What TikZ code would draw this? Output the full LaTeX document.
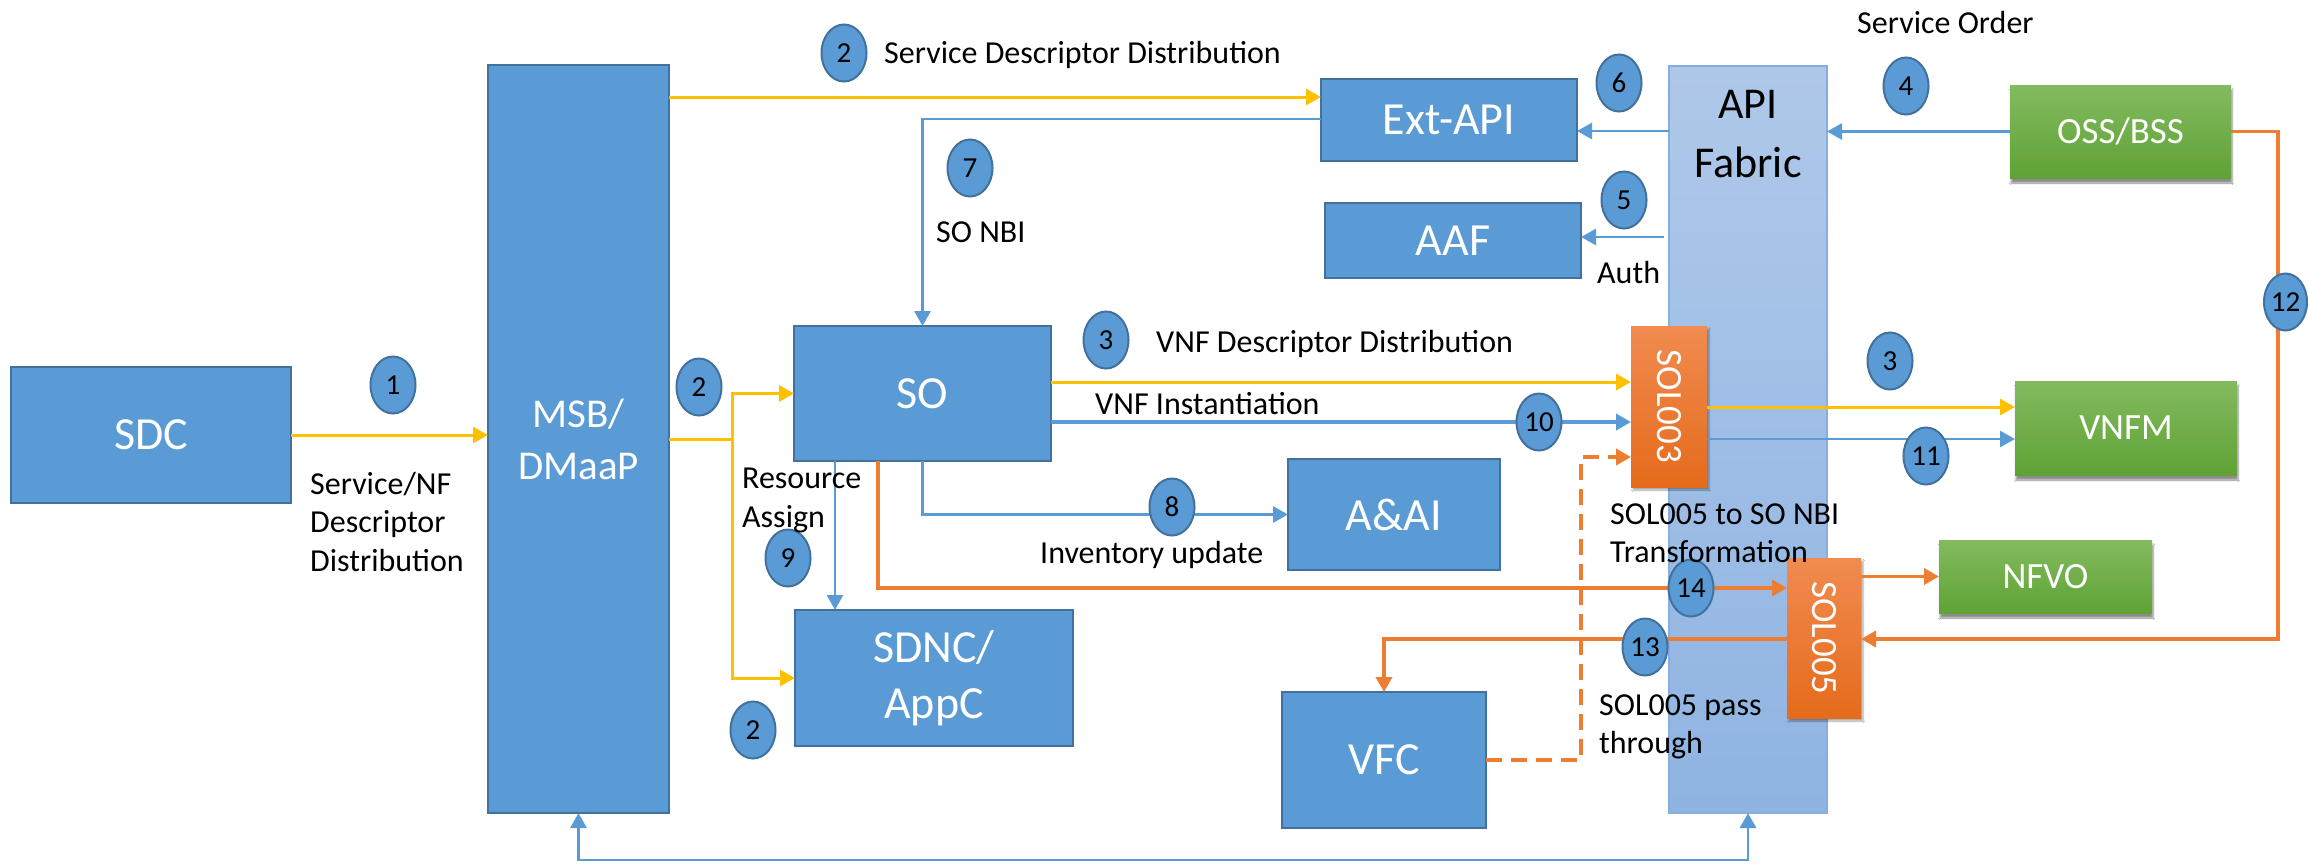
\documentclass[tikz,border=0pt]{standalone}
\usepackage{fontspec}
\setmainfont{Carlito}
\usetikzlibrary{arrows.meta,shapes.geometric,shadows,shadows.blur,calc}

\definecolor{boxfill}{HTML}{5B9BD5}
\definecolor{boxedge}{HTML}{41719C}
\definecolor{flowblue}{HTML}{5B9BD5}
\definecolor{flowgold}{HTML}{FFC000}
\definecolor{floworange}{HTML}{ED7D31}
\definecolor{greentop}{HTML}{82BB5F}
\definecolor{greenbot}{HTML}{60A235}
\definecolor{soltop}{HTML}{F18B50}
\definecolor{solbot}{HTML}{E56B1B}
\definecolor{fabtop}{HTML}{AFC8E9}
\definecolor{fabbot}{HTML}{8FB4E2}
\definecolor{fabedge}{HTML}{86AEDF}

\tikzset{
  comp/.style={draw=boxedge, fill=boxfill, line width=2.5pt, text=white,
    inner sep=0pt, outer sep=0pt, align=center, font=\fontsize{46}{56}\selectfont},
  extsys/.style={top color=greentop, bottom color=greenbot, draw=none, text=white,
    inner sep=0pt, outer sep=0pt, font=\fontsize{37}{44}\selectfont,
    blur shadow={shadow xshift=1pt, shadow yshift=-5pt, shadow blur steps=6, shadow opacity=45}},
  solbox/.style={top color=soltop, bottom color=solbot, draw=none, inner sep=0pt, outer sep=0pt,
    blur shadow={shadow xshift=2pt, shadow yshift=-3pt, shadow blur steps=4, shadow opacity=35}},
  soltxt/.style={text=white, inner sep=0pt, font=\fontsize{37}{37}\selectfont},
  fabric/.style={top color=fabtop, bottom color=fabbot, draw=fabedge, line width=1.5pt,
    inner sep=0pt, outer sep=0pt},
  fabtxt/.style={anchor=base, inner sep=0pt, font=\fontsize{44}{44}\selectfont},
  numb/.style={ellipse, fill=boxfill, draw=boxedge, line width=2pt, minimum width=45pt,
    minimum height=57pt, inner sep=0pt, font=\fontsize{29}{29}\selectfont},
  lbl/.style={anchor=base west, inner sep=0pt, font=\fontsize{32}{38}\selectfont},
  arrowed/.style={-{Triangle[length=15pt,width=16pt]}},
  goldline/.style={draw=flowgold, line width=3pt},
  blueline/.style={draw=flowblue, line width=2.8pt},
  thickblue/.style={draw=flowblue, line width=4pt},
  orangeline/.style={draw=floworange, line width=3.6pt},
  dashline/.style={draw=floworange, line width=4pt, dash pattern=on 16pt off 9pt},
}

\begin{document}
\begin{tikzpicture}[x=1pt, y=-1pt]
\useasboundingbox (0,0) rectangle (2308,863);
\fill[white] (0,0) rectangle (2308,863);

% API fabric column (background layer)
\node[fabric, minimum width=158pt, minimum height=747pt] (fab) at (1748,439.5) {};
\node[fabtxt] (fab1) at (1748,118) {API};
\node[fabtxt] (fab2) at (1748,177) {Fabric};

% ONAP components
\node[comp, minimum width=280pt, minimum height=136pt] (sdc) at (151,435) {SDC};
\node[comp, minimum width=181pt, minimum height=748pt, font=\fontsize{41}{52}\selectfont] (msb) at (578.5,439) {MSB/\\DMaaP};
\node[comp, minimum width=256pt, minimum height=82pt] (ext) at (1449,120) {Ext-API};
\node[comp, minimum width=256pt, minimum height=75pt] (aaf) at (1453,240.5) {AAF};
\node[comp, minimum width=257pt, minimum height=135pt] (so) at (922.5,393.5) {SO};
\node[comp, minimum width=212pt, minimum height=111pt] (aai) at (1394,514.5) {A\&AI};
\node[comp, minimum width=278pt, minimum height=136pt] (sdnc) at (934,678) {SDNC/\\AppC};
\node[comp, minimum width=204pt, minimum height=136pt] (vfc) at (1384,760) {VFC};

% external systems
\node[extsys, minimum width=221pt, minimum height=93pt] (oss) at (2120.5,131.5) {OSS/BSS};
\node[extsys, minimum width=222pt, minimum height=94pt] (vnfm) at (2126,428) {VNFM};
\node[extsys, minimum width=213pt, minimum height=73pt] (nfvo) at (2045.5,576.5) {NFVO};

% SOL adapters
\node[solbox, minimum width=76pt, minimum height=161pt] (sol3) at (1669,406.5) {};
\node[soltxt, rotate=-90] (sol3t) at (sol3.center) {SOL003};
\node[solbox, minimum width=74pt, minimum height=160pt] (sol5) at (1824,638) {};
\node[soltxt, rotate=-90] (sol5t) at (sol5.center) {SOL005};

% helper points on box borders
\coordinate (ra) at ($(so.south west)+(41,0)$);
\coordinate (o14) at ($(so.south west)+(84,0)$);

% descriptor distribution (gold)
\draw[goldline, arrowed] (sdc.east) -- (msb.west |- sdc.east);
\draw[goldline, arrowed] (msb.east |- 0,97) -- (ext.west |- 0,97);
\draw[goldline] (msb.east) -- ++(63,0) coordinate (split);
\draw[goldline, arrowed] (split) |- (so.west);
\draw[goldline, arrowed] (split) |- (sdnc.west);
\draw[goldline, arrowed] (so.east |- 0,382) -- (sol3.west |- 0,382);
\draw[goldline, arrowed] (sol3.east |- 0,407) -- (vnfm.west |- 0,407);

% API calls (blue)
\draw[blueline, arrowed] (ext.west |- 0,119) -| (so.north);
\draw[blueline, arrowed] (fab.west |- 0,131) -- (ext.east |- 0,131);
\draw[blueline, arrowed] ($(fab.west |- 0,237)+(-5,0)$) -- (aaf.east |- 0,237);
\draw[blueline, arrowed] (oss.west) -- (fab.east |- oss.west);
\draw[thickblue, arrowed] (so.east |- 0,422) -- (sol3.west |- 0,422);
\draw[blueline, arrowed] (sol3.east |- 0,439) -- (vnfm.west |- 0,439);
\draw[blueline, arrowed] (ra) -- (ra |- sdnc.north);
\draw[blueline, arrowed] (so.south) |- (aai.west);
\draw[blueline, {Triangle[length=15pt,width=16pt]}-{Triangle[length=15pt,width=16pt]}]
  (msb.south) -- ++(0,47) -| (fab.south);

% SOL005 flows (orange)
\draw[orangeline, arrowed] (o14) |- (sol5.west |- 0,588);
\draw[orangeline, arrowed] (sol5.east |- nfvo.west) -- (nfvo.west);
\draw[orangeline, arrowed] (oss.east) -| ($(sol5.east |- 0,639)+(417,0)$) -- (sol5.east |- 0,639);
\draw[orangeline, arrowed] (sol5.west |- 0,639) -| (vfc.north);
\draw[dashline, arrowed] (vfc.east) -| ($(sol3.west |- 0,457)+(-50,0)$) -- (sol3.west |- 0,457);

% step numbers
\node[numb] (n1) at (393,385) {1};
\node[numb] (n2a) at (699,387) {2};
\node[numb] (n2b) at (844,53) {2};
\node[numb] (n2c) at (753,730) {2};
\node[numb] (n3a) at (1106,340) {3};
\node[numb] (n3b) at (1890,361) {3};
\node[numb] (n4) at (1906,86) {4};
\node[numb] (n5) at (1624,200) {5};
\node[numb] (n6) at (1619,83) {6};
\node[numb] (n7) at (970,168) {7};
\node[numb] (n8) at (1172,507) {8};
\node[numb] (n9) at (788,558) {9};
\node[numb] (n10) at (1539,422) {10};
\node[numb] (n11) at (1926,456) {11};
\node[numb, minimum width=43pt] (n12) at (2285.5,302) {12};
\node[numb] (n13) at (1645,647) {13};
\node[numb] (n14) at (1691,588) {14};

% flow labels
\node[lbl] (t1) at (884,63) {Service Descriptor Distribution};
\node[lbl] (t2) at (1857,33) {Service Order};
\node[lbl] (t3) at (936,242) {SO NBI};
\node[lbl] (t4) at (1597,283) {Auth};
\node[lbl] (t5) at (1156,352) {VNF Descriptor Distribution};
\node[lbl] (t6) at (1095,414) {VNF Instantiation};
\node[lbl] (t7a) at (310,494) {Service/NF};
\node[lbl] (t7b) at (310,532) {Descriptor};
\node[lbl] (t7c) at (310,571) {Distribution};
\node[lbl] (t8a) at (742,488) {Resource};
\node[lbl] (t8b) at (742,527) {Assign};
\node[lbl] (t9) at (1040,563) {Inventory update};
\node[lbl] (t10a) at (1610,524) {SOL005 to SO NBI};
\node[lbl] (t10b) at (1610,562) {Transformation};
\node[lbl] (t11a) at (1599,715) {SOL005 pass};
\node[lbl] (t11b) at (1599,753) {through};
\end{tikzpicture}
\end{document}
